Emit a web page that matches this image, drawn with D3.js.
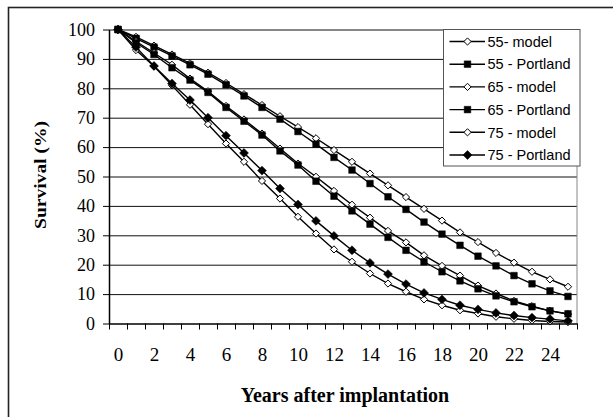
<!DOCTYPE html>
<html>
<head>
<meta charset="utf-8">
<script src="https://cdn.jsdelivr.net/npm/d3@7"></script>
<style>
  body { margin: 0; background: #fff; }
  svg { display: block; }
  .axis path, .axis line { stroke: #000; }
</style>
</head>
<body>
<div id="chart"></div>
<script>
// categories on the x axis (years after implantation)
const years = [0,1,2,3,4,5,6,7,8,9,10,11,12,13,14,15,16,17,18,19,20,21,22,23,24,25];
const xTickLabels = [0,2,4,6,8,10,12,14,16,18,20,22,24];
const yTicks = [0,10,20,30,40,50,60,70,80,90,100];

// survival (%)
const model55    = [100,97.5,94.5,91.5,88.5,85.3,81.8,78,74.3,70.5,66.8,63,59,55,51,47,43,39,35,31,27.7,24,20.7,17.6,15,12.5];
const portland55 = [100,97,94,91,88,84.8,81.2,77.4,73.5,69.5,65.3,61,56.5,52.2,47.6,43.1,38.8,34.5,30.4,26.6,22.9,19.6,16.3,13.5,11.1,9.2];
const model65    = [100,96,92,88,83.3,79,74,69.4,64.6,59.5,54.4,49.9,45.1,40.4,36,31.5,27.6,23.2,19.6,16.3,12.9,10.2,7.7,5.9,4.3,3.2];
const portland65 = [100,95.5,91.5,87,82.8,78.6,73.5,68.8,64.1,58.7,53.9,48.4,43.3,38.3,33.8,29.3,24.9,21,17.6,14.5,11.8,9.4,7.4,5.7,4.3,3.3];
const model75    = [100,93,87.5,81,74.4,67.8,61.2,55,48.5,42.5,36.3,30.6,25.2,21,17,13.6,10.8,8.2,6.2,4.5,3.4,2.3,1.6,1,0.7,0.5];
const portland75 = [100,94,87.6,81.6,76,70,63.9,58,52,45.9,40.5,34.9,29.8,24.9,20.6,16.8,13.4,10.4,8.2,6.2,4.8,3.6,2.7,2,1.5,0.9];

const seriesNames = ["55- model", "55 - Portland", "65 - model", "65 - Portland", "75 - model", "75 - Portland"];
const seriesValues = [model55, portland55, model65, portland65, model75, portland75];
const seriesMarker = ["openDiamond", "square", "openDiamond", "square", "openDiamond", "diamond"];

const W = 613, H = 417;
const plot = {left: 109, right: 577, top: 29.5, bottom: 323.5};
const serif = "'Liberation Serif', 'Times New Roman', serif";

const svg = d3.select("#chart").append("svg")
    .attr("width", W)
    .attr("height", H);

svg.append("rect").attr("width", W).attr("height", H).attr("fill", "#fff");

// outer chart frame (runs off the right and bottom edge)
svg.append("rect")
    .attr("x", 8.5).attr("y", 7.5)
    .attr("width", 700).attr("height", 500)
    .attr("fill", "none")
    .attr("stroke", "#222")
    .attr("stroke-width", 1.6);

// scales: categories sit in the middle of each slot
const x = d3.scaleLinear().domain([-0.5, years.length - 0.5]).range([plot.left, plot.right]);
const y = d3.scaleLinear().domain([0, 100]).range([plot.bottom, plot.top]);

// horizontal gridlines
svg.append("g")
    .attr("class", "grid")
    .attr("transform", `translate(${plot.left},0)`)
    .call(d3.axisLeft(y).tickValues(yTicks.slice(1)).tickSize(-(plot.right - plot.left)).tickFormat(""))
    .call(g => g.select(".domain").remove())
    .call(g => g.selectAll("line").attr("stroke", "#111").attr("stroke-width", 1));

// plot area right edge
svg.append("line")
    .attr("x1", plot.right).attr("x2", plot.right)
    .attr("y1", plot.top).attr("y2", plot.bottom)
    .attr("stroke", "#888");

// y axis
svg.append("g")
    .attr("class", "axis")
    .attr("transform", `translate(${plot.left},0)`)
    .call(d3.axisLeft(y).tickValues(yTicks).tickSize(6).tickPadding(8).tickSizeOuter(0))
    .call(g => g.select(".domain").attr("stroke-width", 1.5))
    .call(g => g.selectAll("text")
        .style("font-family", serif)
        .style("font-size", "18px")
        .attr("fill", "#000"));

// x axis: tick marks on the category boundaries
const boundaries = years.map(d => d - 0.5).concat([years[years.length - 1] + 0.5]);
svg.append("g")
    .attr("class", "axis")
    .attr("transform", `translate(0,${plot.bottom})`)
    .call(d3.axisBottom(x).tickValues(boundaries).tickSize(6).tickSizeOuter(0).tickFormat(""))
    .call(g => g.select(".domain").attr("stroke-width", 1.5));

// x labels every second year
svg.append("g")
    .attr("class", "axis")
    .attr("transform", `translate(0,${plot.bottom})`)
    .call(d3.axisBottom(x).tickValues(xTickLabels).tickSize(0).tickPadding(24))
    .call(g => g.select(".domain").remove())
    .call(g => g.selectAll("text")
        .style("font-family", serif)
        .style("font-size", "19px")
        .attr("fill", "#000"));

// axis titles
svg.append("text")
    .attr("x", 345).attr("y", 402)
    .attr("text-anchor", "middle")
    .style("font-family", serif)
    .style("font-weight", "bold")
    .style("font-size", "20px")
    .text("Years after implantation");

svg.append("text")
    .attr("transform", "translate(46,175) rotate(-90)")
    .attr("text-anchor", "middle")
    .style("font-family", serif)
    .style("font-weight", "bold")
    .style("font-size", "17px")
    .attr("textLength", 108)
    .attr("lengthAdjust", "spacingAndGlyphs")
    .text("Survival (%)");

// marker shapes
const diamondType = {draw(ctx, size) {
  const r = Math.sqrt(size / 2);
  ctx.moveTo(0, -r); ctx.lineTo(r, 0); ctx.lineTo(0, r); ctx.lineTo(-r, 0); ctx.closePath();
}};
function markerPath(kind) {
  if (kind === "square") return d3.symbol().type(d3.symbolSquare).size(44)();
  if (kind === "diamond") return d3.symbol().type(diamondType).size(40)();
  return d3.symbol().type(diamondType).size(26)();
}
function styleMarker(sel, kind) {
  sel.attr("d", markerPath(kind))
    .attr("fill", kind === "openDiamond" ? "#fff" : "#000")
    .attr("stroke", "#000")
    .attr("stroke-width", kind === "openDiamond" ? 1 : 0.5);
}

const line = d3.line()
    .x((d, i) => x(years[i]))
    .y(d => y(d));

const seriesG = svg.append("g").selectAll("g")
    .data(seriesValues)
    .join("g");

seriesG.append("path")
    .attr("d", d => line(d))
    .attr("fill", "none")
    .attr("stroke", "#000")
    .attr("stroke-width", 1.4);

seriesG.each(function(vals, si) {
  d3.select(this).selectAll("path.mark")
    .data(vals)
    .join("path")
    .attr("class", "mark")
    .attr("transform", (d, i) => `translate(${x(years[i])},${y(d)})`)
    .call(styleMarker, seriesMarker[si]);
});

// legend
const legend = svg.append("g").attr("transform", "translate(443.5,29.5)");
legend.append("rect")
    .attr("width", 136.5).attr("height", 136.5)
    .attr("fill", "#fff")
    .attr("stroke", "#555");

const rows = legend.selectAll("g.row")
    .data(seriesNames)
    .join("g")
    .attr("class", "row")
    .attr("transform", (d, i) => `translate(0,${12 + i * 22.7})`);

rows.append("line")
    .attr("x1", 6).attr("x2", 41.5)
    .attr("stroke", "#000").attr("stroke-width", 1.4);

rows.append("path")
    .attr("transform", "translate(24,0)")
    .each(function(d, i) { d3.select(this).call(styleMarker, seriesMarker[i]); });

rows.append("text")
    .attr("x", 44).attr("dy", "0.36em")
    .style("font-family", "'Liberation Sans', Arial, sans-serif")
    .style("font-size", "14.5px")
    .text(d => d);
</script>
</body>
</html>
